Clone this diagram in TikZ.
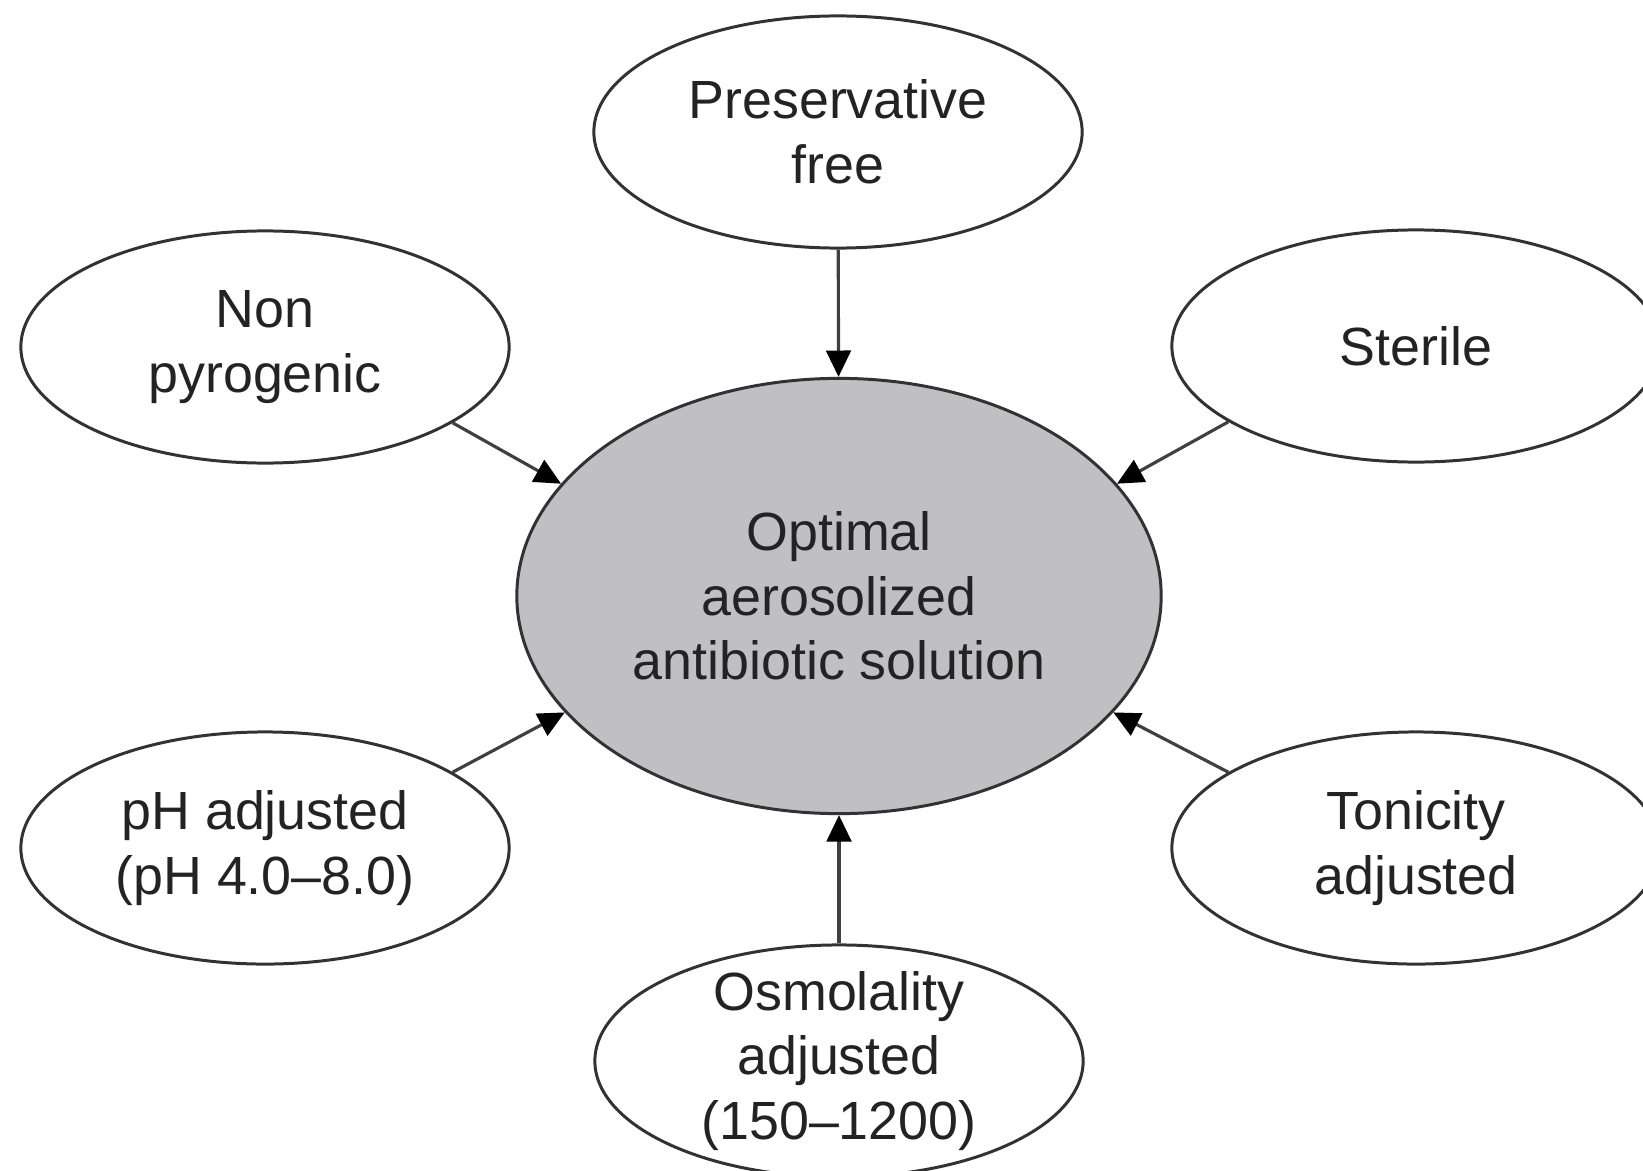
\documentclass[tikz,border=0pt]{standalone}
\usepackage{fontspec}
\setmainfont{Liberation Sans}
\usetikzlibrary{shapes.geometric,arrows.meta}
\definecolor{mainfill}{RGB}{192,192,194}
\definecolor{edgegray}{RGB}{50,50,50}
\definecolor{textgray}{RGB}{35,35,35}

\begin{document}
\begin{tikzpicture}[x=0.01cm,y=-0.01cm,
		prop/.style={ellipse,draw=edgegray,line width=0.85pt,inner sep=0pt,
			minimum width=4.88cm,minimum height=2.32cm,align=center,text=textgray,
			font=\fontsize{15.3}{18.4}\selectfont},
		goal/.style={prop,fill=mainfill,minimum width=6.44cm,minimum height=4.35cm},
		feed/.style={draw=black!75,line width=0.9pt,-{Triangle[length=7.5pt,width=7pt,color=black]}}]
	\useasboundingbox (0,0) rectangle (1643,1170);
	\clip (0,0) rectangle (1643,1170);
	\node[goal] (main) at (839,596) {Optimal\\aerosolized\\antibiotic solution};
	\node[prop] (pres) at (838,132) {Preservative\\free};
	\node[prop] (nonpyro) at (265,347) {Non\\pyrogenic};
	\node[prop] (sterile) at (1416,346) {Sterile};
	\node[prop] (phadj) at (265,848) {pH adjusted\\(pH 4.0--8.0)};
	\node[prop] (tonic) at (1416,848) {Tonicity\\adjusted};
	\node[prop,inner ysep=-0.25cm] (osmol) at (839,1061) {Osmolality\\adjusted\\(150--1200)};
	\draw[feed] (pres) -- (main);
	\draw[feed] (nonpyro.-22) -- (main.158);
	\draw[feed] (sterile.202) -- (main.22);
	\draw[feed] (phadj.22) -- (main.203);
	\draw[feed] (tonic.158) -- (main.-23);
	\draw[feed] (osmol) -- (main);
\end{tikzpicture}
\end{document}
